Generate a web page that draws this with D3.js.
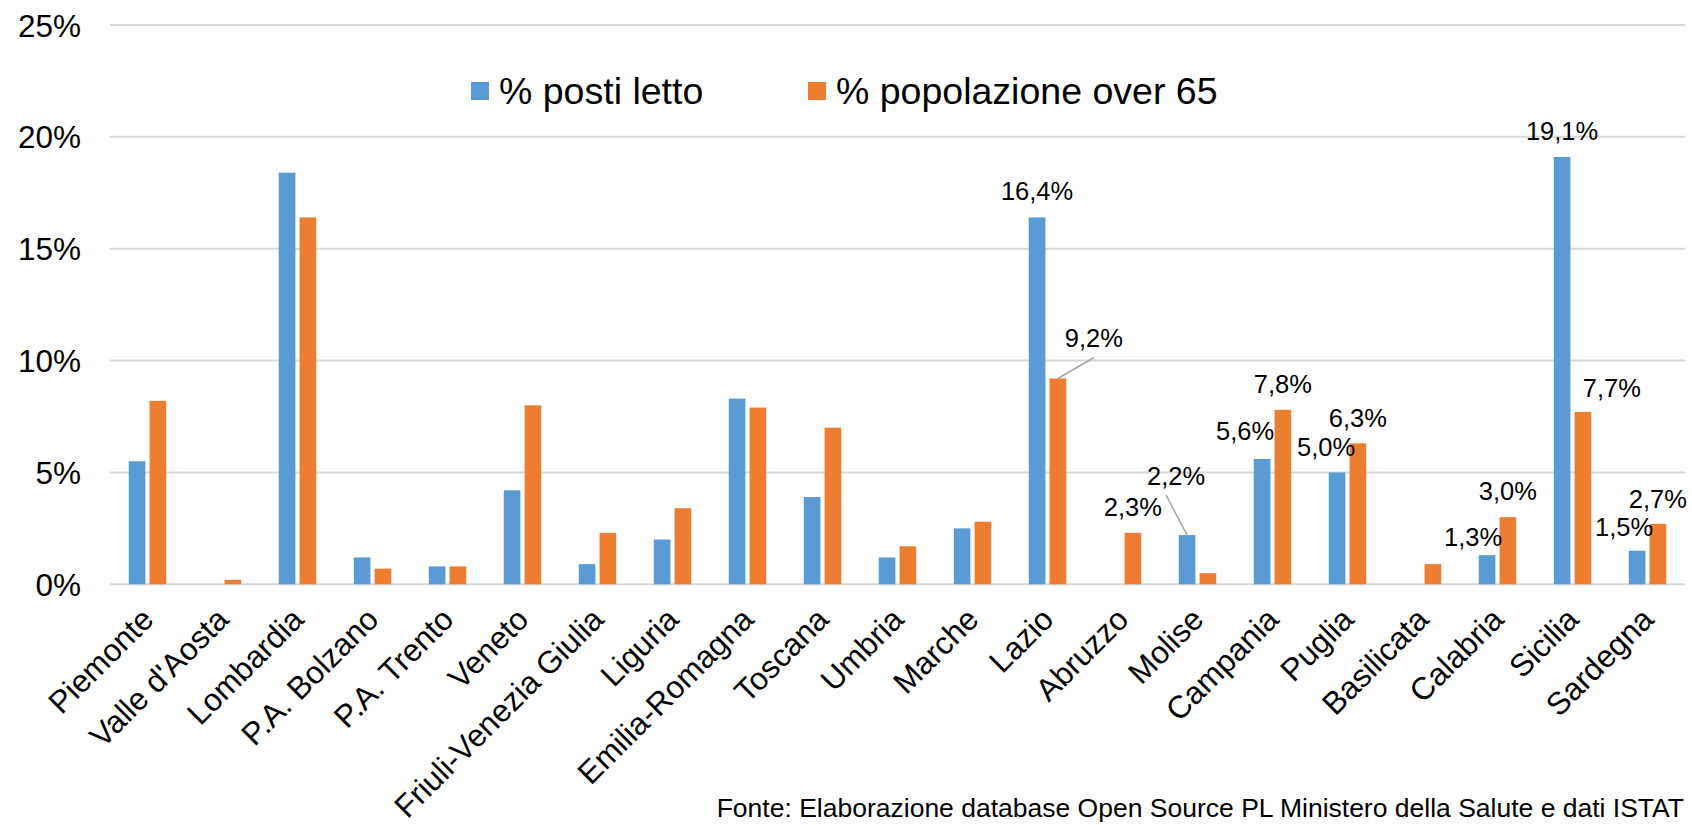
<!DOCTYPE html>
<html>
<head>
<meta charset="utf-8">
<script src="https://cdn.jsdelivr.net/npm/d3@7"></script>
<style>
  html, body { margin: 0; padding: 0; background: #fff; }
  svg { display: block; font-family: "Liberation Sans", Arial, sans-serif; }
</style>
</head>
<body>
<svg id="chart" width="1692" height="825"></svg>
<script>
// Regions and series (percent of national total)
const regions = ["Piemonte", "Valle d'Aosta", "Lombardia", "P.A. Bolzano", "P.A. Trento", "Veneto",
  "Friuli-Venezia Giulia", "Liguria", "Emilia-Romagna", "Toscana", "Umbria", "Marche", "Lazio",
  "Abruzzo", "Molise", "Campania", "Puglia", "Basilicata", "Calabria", "Sicilia", "Sardegna"];
const postiLetto = [5.5, 0, 18.4, 1.2, 0.8, 4.2, 0.9, 2.0, 8.3, 3.9, 1.2, 2.5, 16.4,
  0, 2.2, 5.6, 5.0, 0, 1.3, 19.1, 1.5];
const over65 = [8.2, 0.2, 16.4, 0.7, 0.8, 8.0, 2.3, 3.4, 7.9, 7.0, 1.7, 2.8, 9.2,
  2.3, 0.5, 7.8, 6.3, 0.9, 3.0, 7.7, 2.7];
const seriesNames = ["% posti letto", "% popolazione over 65"];
const seriesColors = ["#5b9bd5", "#ed7d31"];
const yTicks = [0, 5, 10, 15, 20, 25];
const labelledPosti = ["Lazio", "Molise", "Campania", "Puglia", "Calabria", "Sicilia", "Sardegna"];
const labelledOver65 = ["Lazio", "Abruzzo", "Campania", "Puglia", "Calabria", "Sicilia", "Sardegna"];
const sourceNote = "Fonte: Elaborazione database Open Source PL Ministero della Salute e dati ISTAT";

// Hand-placed data labels: offsets from the default spot above the bar, optional leader line
const labelNudge = {
  "0|Lazio": [0, 0], "1|Lazio": [36, -14, true],
  "0|Molise": [-11, -33, true], "1|Abruzzo": [0, 0],
  "0|Campania": [-17, -2], "1|Campania": [0, 0],
  "0|Puglia": [-11, 1], "1|Puglia": [0, 1],
  "0|Calabria": [-14, 8], "1|Calabria": [0, 0],
  "0|Sicilia": [0, 0], "1|Sicilia": [29, 2],
  "0|Sardegna": [-13, 2], "1|Sardegna": [0, 1]
};

const svg = d3.select("#chart");
const margin = { left: 110, right: 1685, top: 25, bottom: 584.3 };

const y = d3.scaleLinear().domain([0, 25]).range([margin.bottom, margin.top]);
const x0 = d3.scaleBand().domain(regions).range([margin.left, margin.right])
  .paddingInner(0.5).paddingOuter(0.25);
const x1 = d3.scaleBand().domain([0, 1]).range([0, x0.bandwidth()]).paddingInner(0.2);

const fmtPct = v => d3.format(".1f")(v).replace(".", ",") + "%";

// gridlines
svg.append("g").selectAll("line").data(yTicks).join("line")
  .attr("x1", margin.left).attr("x2", margin.right)
  .attr("y1", d => y(d)).attr("y2", d => y(d))
  .attr("stroke", "#d9d9d9").attr("stroke-width", 2);

// y axis labels
const yAxis = d3.axisLeft(y).tickValues(yTicks).tickFormat(d => d + "%").tickSize(0).tickPadding(0);
const yg = svg.append("g").attr("transform", `translate(81,0)`).call(yAxis);
yg.select(".domain").remove();
yg.selectAll("text").attr("font-size", 31.5).attr("fill", "#000")
  .attr("font-family", "Liberation Sans, Arial, sans-serif").attr("dy", "0.35em");

// bars
const series = [postiLetto, over65];
const groups = svg.append("g").selectAll("g").data(regions).join("g")
  .attr("transform", d => `translate(${x0(d)},0)`);
groups.selectAll("rect")
  .data((d, i) => series.map((s, k) => ({ k, v: s[i], region: d })))
  .join("rect")
  .filter(d => d.v > 0)
  .attr("x", d => x1(d.k)).attr("width", x1.bandwidth())
  .attr("y", d => y(d.v)).attr("height", d => y(0) - y(d.v))
  .attr("fill", d => seriesColors[d.k]);

// x axis category labels
const xAxis = d3.axisBottom(x0).tickSize(0).tickPadding(0);
const xg = svg.append("g").attr("transform", `translate(0,${margin.bottom})`).call(xAxis);
xg.select(".domain").remove();
xg.selectAll("text")
  .attr("font-size", 31.5).attr("fill", "#000")
  .attr("font-family", "Liberation Sans, Arial, sans-serif")
  .attr("text-anchor", "end")
  .attr("x", 0).attr("y", 0).attr("dy", 0)
  .attr("transform", "translate(8,37) rotate(-45)");

// data labels
const labelData = [];
[labelledPosti, labelledOver65].forEach((list, k) => {
  list.forEach(r => {
    const i = regions.indexOf(r);
    const v = series[k][i];
    const nudge = labelNudge[k + "|" + r] || [0, 0];
    const bx = x0(r) + x1(k) + x1.bandwidth() / 2;
    const by = y(v);
    labelData.push({ v, bx, by, lx: bx + nudge[0], ly: by - 17 + nudge[1], leader: !!nudge[2] });
  });
});
const lbl = svg.append("g");
lbl.selectAll("line").data(labelData.filter(d => d.leader)).join("line")
  .attr("x1", d => d.bx).attr("y1", d => d.by)
  .attr("x2", d => d.lx + (d.lx > d.bx ? 0 : -10)).attr("y2", d => d.ly + 10)
  .attr("stroke", "#a6a6a6").attr("stroke-width", 1.5);
lbl.selectAll("text").data(labelData).join("text")
  .attr("x", d => d.lx).attr("y", d => d.ly)
  .attr("text-anchor", "middle").attr("font-size", 25.5).attr("fill", "#000")
  .text(d => fmtPct(d.v));

// legend
const legend = svg.append("g").selectAll("g").data(seriesNames).join("g")
  .attr("transform", (d, i) => `translate(${471 + i * 337},82)`);
legend.append("rect").attr("width", 18).attr("height", 18)
  .attr("fill", (d, i) => seriesColors[i]);
legend.append("text").attr("x", 28).attr("y", 22)
  .attr("font-size", 37.5).attr("fill", "#000").text(d => d);

// source note
svg.append("text").attr("x", 1684).attr("y", 817).attr("text-anchor", "end")
  .attr("font-size", 26.5).attr("fill", "#000").text(sourceNote);
</script>
</body>
</html>
